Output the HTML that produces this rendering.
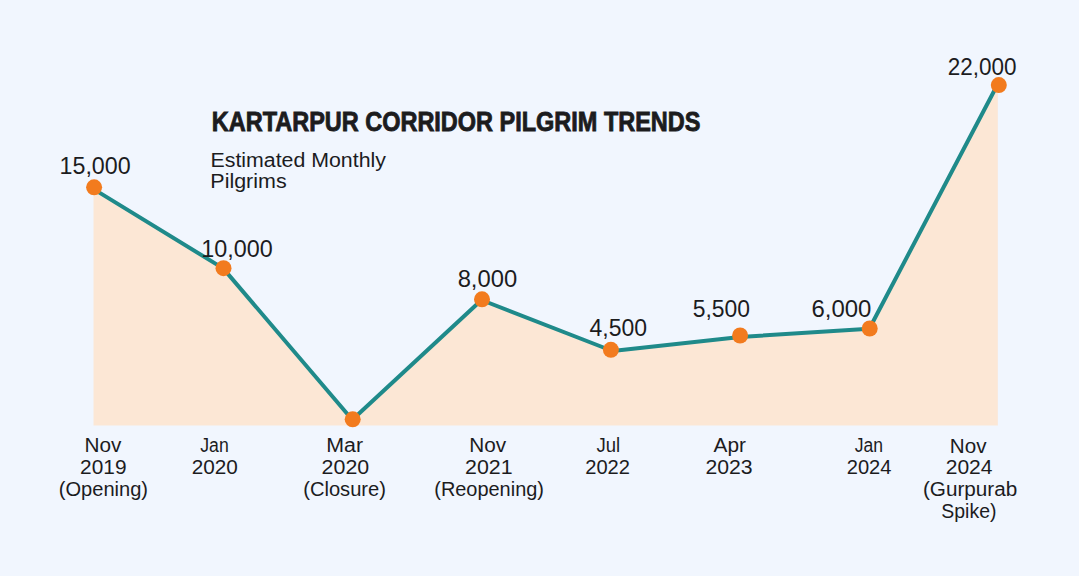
<!DOCTYPE html>
<html lang="en">
<head>
<meta charset="utf-8">
<title>Kartarpur Corridor Pilgrim Trends</title>
<style>
  html, body { margin: 0; padding: 0; }
  body { width: 1079px; height: 576px; overflow: hidden; background: #f1f6fe; }
  svg { display: block; }
  .t { font-family: "Liberation Sans", sans-serif; fill: #1c1c1e; }
  .val { font-size: 23.6px; }
  .ax { font-size: 19.5px; }
  .sub { font-size: 19.5px; }
  .title { font-size: 28.4px; font-weight: bold; stroke: #1c1c1e; stroke-width: 0.9px; }
</style>
</head>
<body>
<svg width="1079" height="576" viewBox="0 0 1079 576">
  <rect x="0" y="0" width="1079" height="576" fill="#f1f6fe"/>
  <polygon fill="#fce7d5" points="93.5,425.6 93.5,189.4 223.2,268.4 352.3,419.8 481.5,300 612.5,351 740.1,337 869.3,328.8 997.8,86.5 997.8,425.6"/>
  <polyline fill="none" stroke="#1f8a8a" stroke-width="4" stroke-linejoin="round" points="94.1,189.4 223.2,268.4 352.3,419.8 481.5,300 612.5,351 740.1,337 869.3,328.8 997,85.5"/>
  <g fill="#f27b1e">
    <circle cx="94.1" cy="187.3" r="8"/>
    <circle cx="223.5" cy="268.2" r="8"/>
    <circle cx="352.7" cy="419.3" r="8"/>
    <circle cx="482" cy="299.3" r="8"/>
    <circle cx="610.9" cy="349.8" r="8"/>
    <circle cx="740.1" cy="335.5" r="8"/>
    <circle cx="869.7" cy="328.5" r="8"/>
    <circle cx="998.8" cy="85.1" r="8"/>
  </g>
  <!-- title -->
  <text class="t title" text-anchor="middle" x="456.1" y="131.4" textLength="488.6" lengthAdjust="spacingAndGlyphs">KARTARPUR CORRIDOR PILGRIM TRENDS</text>
  <text class="t sub" text-anchor="middle" x="298.2" y="166.7" textLength="175.4" lengthAdjust="spacingAndGlyphs">Estimated Monthly</text>
  <text class="t sub" text-anchor="middle" x="248.5" y="188.4" textLength="76.3" lengthAdjust="spacingAndGlyphs">Pilgrims</text>
  <!-- value labels -->
  <text class="t val" text-anchor="middle" x="95.1" y="174" textLength="71.2" lengthAdjust="spacingAndGlyphs">15,000</text>
  <text class="t val" text-anchor="middle" x="237.0" y="256.6" textLength="71.4" lengthAdjust="spacingAndGlyphs">10,000</text>
  <text class="t val" text-anchor="middle" x="487.4" y="286.9" textLength="59.5" lengthAdjust="spacingAndGlyphs">8,000</text>
  <text class="t val" text-anchor="middle" x="618.3" y="335.9" textLength="57.5" lengthAdjust="spacingAndGlyphs">4,500</text>
  <text class="t val" text-anchor="middle" x="721.4" y="316.9" textLength="57.3" lengthAdjust="spacingAndGlyphs">5,500</text>
  <text class="t val" text-anchor="middle" x="841.4" y="316.6" textLength="59.9" lengthAdjust="spacingAndGlyphs">6,000</text>
  <text class="t val" text-anchor="middle" x="982.2" y="74.8" textLength="68.8" lengthAdjust="spacingAndGlyphs">22,000</text>
  <!-- axis labels -->
  <text class="t ax" text-anchor="middle" x="102.9" y="451.5" textLength="36.9" lengthAdjust="spacingAndGlyphs">Nov</text>
  <text class="t ax" text-anchor="middle" x="103.3" y="473.6" textLength="46.4" lengthAdjust="spacingAndGlyphs">2019</text>
  <text class="t ax" text-anchor="middle" x="103.4" y="495.9" textLength="89.3" lengthAdjust="spacingAndGlyphs">(Opening)</text>
  <text class="t ax" text-anchor="middle" x="214.5" y="451.5" textLength="28.5" lengthAdjust="spacingAndGlyphs">Jan</text>
  <text class="t ax" text-anchor="middle" x="214.8" y="473.6" textLength="46.2" lengthAdjust="spacingAndGlyphs">2020</text>
  <text class="t ax" text-anchor="middle" x="344.7" y="451.5" textLength="36.8" lengthAdjust="spacingAndGlyphs">Mar</text>
  <text class="t ax" text-anchor="middle" x="345.4" y="473.6" textLength="47.6" lengthAdjust="spacingAndGlyphs">2020</text>
  <text class="t ax" text-anchor="middle" x="344.6" y="495.9" textLength="82.8" lengthAdjust="spacingAndGlyphs">(Closure)</text>
  <text class="t ax" text-anchor="middle" x="487.8" y="451.5" textLength="36.9" lengthAdjust="spacingAndGlyphs">Nov</text>
  <text class="t ax" text-anchor="middle" x="488.8" y="473.6" textLength="47.6" lengthAdjust="spacingAndGlyphs">2021</text>
  <text class="t ax" text-anchor="middle" x="489.1" y="495.9" textLength="109.7" lengthAdjust="spacingAndGlyphs">(Reopening)</text>
  <text class="t ax" text-anchor="middle" x="608.4" y="451.5" textLength="23.7" lengthAdjust="spacingAndGlyphs">Jul</text>
  <text class="t ax" text-anchor="middle" x="607.6" y="473.6" textLength="44.8" lengthAdjust="spacingAndGlyphs">2022</text>
  <text class="t ax" text-anchor="middle" x="729.7" y="451.5" textLength="32.4" lengthAdjust="spacingAndGlyphs">Apr</text>
  <text class="t ax" text-anchor="middle" x="729.0" y="473.6" textLength="47.2" lengthAdjust="spacingAndGlyphs">2023</text>
  <text class="t ax" text-anchor="middle" x="868.9" y="451.5" textLength="28.3" lengthAdjust="spacingAndGlyphs">Jan</text>
  <text class="t ax" text-anchor="middle" x="869.1" y="473.6" textLength="44.8" lengthAdjust="spacingAndGlyphs">2024</text>
  <text class="t ax" text-anchor="middle" x="968.2" y="452.5" textLength="36.7" lengthAdjust="spacingAndGlyphs">Nov</text>
  <text class="t ax" text-anchor="middle" x="969.1" y="473.6" textLength="46.8" lengthAdjust="spacingAndGlyphs">2024</text>
  <text class="t ax" text-anchor="middle" x="970.1" y="496.4" textLength="94.3" lengthAdjust="spacingAndGlyphs">(Gurpurab</text>
  <text class="t ax" text-anchor="middle" x="968.9" y="518.1" textLength="55.1" lengthAdjust="spacingAndGlyphs">Spike)</text>
</svg>
</body>
</html>
